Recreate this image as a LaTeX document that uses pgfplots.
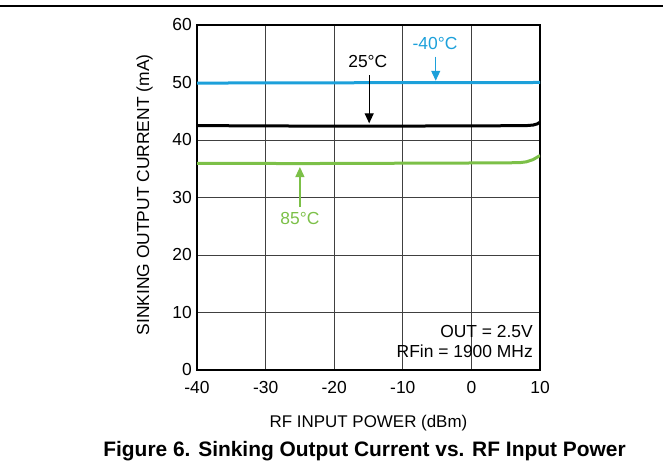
\documentclass[border=0pt]{standalone}
\usepackage{pgfplots}
\pgfplotsset{compat=1.18}
\usepackage{fontspec}
\setmainfont{Liberation Sans}
\usetikzlibrary{arrows.meta}
\definecolor{cblue}{RGB}{28,160,218}
\definecolor{cgreen}{RGB}{124,192,72}
\begin{document}
\begin{tikzpicture}[x=1bp,y=1bp]
\useasboundingbox (0,0) rectangle (663,467);
\draw[line width=1.5bp] (0,461) -- (663,461);
\begin{axis}[
  at={(197bp,97bp)}, anchor=south west,
  scale only axis, width=343bp, height=345bp,
  xmin=-40, xmax=10, ymin=0, ymax=60,
  xtick={-40,-30,-20,-10,0,10},
  xticklabels={-40,-30,-20,-10,0,10},
  ytick={0,10,20,30,40,50,60},
  major tick length=0pt,
  grid=major,
  major grid style={black!75, line width=0.8bp},
  axis line style={line width=1.6bp},
  /pgf/number format/assume math mode=true,
  tick label style={font=\fontsize{17.5}{20}\selectfont},
  xticklabel style={inner sep=0pt, yshift=-11bp},
  yticklabel style={inner sep=0pt, xshift=-5bp},
  clip=true,
]
\addplot[cblue, line width=3bp] coordinates {(-40,49.9) (-20,49.95) (10,50.0)};
\addplot[black, line width=3bp] coordinates {(-40,42.5) (-20,42.4) (0,42.45) (8,42.5) (9,42.6) (9.6,42.8) (10,43.1)};
\addplot[cgreen, line width=3bp] coordinates {(-40,35.95) (-25,35.9) (0,36.0) (7,36.05) (8,36.2) (9,36.6) (10,37.3)};
\node[cblue, font=\fontsize{17.5}{20}\selectfont] at (axis cs:-5.3,56.8) {-40°C};
\draw[cblue, line width=1.2bp, -{Triangle[length=10bp,width=9bp]}] (axis cs:-5.2,54.5) -- (axis cs:-5.2,50.3);
\node[black, font=\fontsize{17.5}{20}\selectfont] at (axis cs:-15.1,53.6) {25°C};
\draw[black, line width=1.2bp, -{Triangle[length=10bp,width=9bp]}] (axis cs:-14.9,51.3) -- (axis cs:-14.9,42.9);
\node[cgreen, font=\fontsize{17.5}{20}\selectfont] at (axis cs:-25,26.3) {85°C};
\draw[cgreen, line width=1.2bp, -{Triangle[length=10bp,width=9bp]}] (axis cs:-25,28.4) -- (axis cs:-25,35.3);
\node[anchor=base east, inner sep=0pt, font=\fontsize{17.5}{20}\selectfont] at (axis cs:8.98,5.57) {OUT = 2.5V};
\node[anchor=base east, inner sep=0pt, font=\fontsize{17.5}{20}\selectfont] at (axis cs:8.98,2.09) {RFin = 1900 MHz};
\end{axis}
\node[anchor=base, inner sep=0pt, font=\fontsize{17}{20}\selectfont] at (368.5,39) {RF INPUT POWER (dBm)};
\node[anchor=base, inner sep=0pt, rotate=90, font=\fontsize{17.5}{20}\selectfont] at (149,272) {SINKING OUTPUT CURRENT (mA)};
\node[anchor=base, inner sep=0pt, font=\fontsize{21}{24}\bfseries] at (364.5,10) {Figure 6. Sinking Output Current vs. RF Input Power};
\end{tikzpicture}
\end{document}
